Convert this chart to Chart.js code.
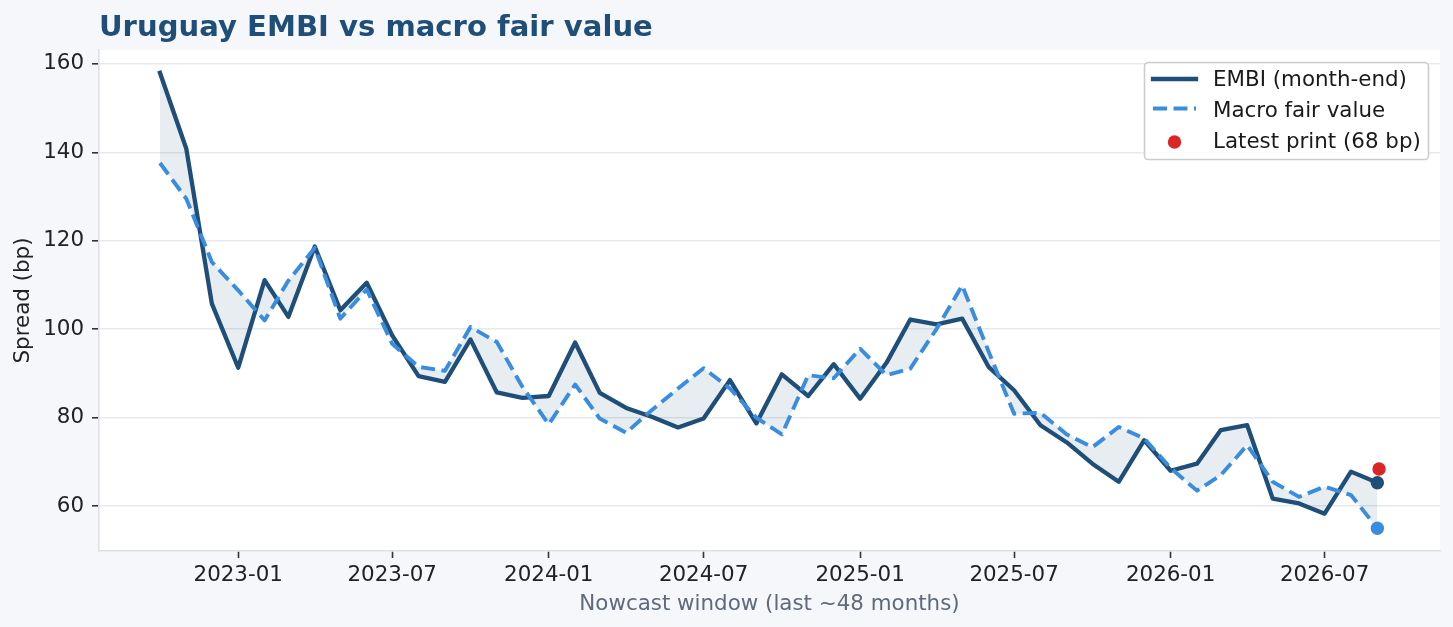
<!DOCTYPE html>
<html>
<head>
<meta charset="utf-8">
<style>
  html, body { margin: 0; padding: 0; background: #f5f7fa; }
  canvas { display: block; }
</style>
</head>
<body>
<canvas id="c" width="1453" height="627"></canvas>
<script src="https://cdn.jsdelivr.net/npm/chart.js@4.4.1/dist/chart.umd.min.js"></script>
<script>
// ---------- data ----------
const months = [
  '2022-10','2022-11','2022-12',
  '2023-01','2023-02','2023-03','2023-04','2023-05','2023-06','2023-07','2023-08','2023-09','2023-10','2023-11','2023-12',
  '2024-01','2024-02','2024-03','2024-04','2024-05','2024-06','2024-07','2024-08','2024-09','2024-10','2024-11','2024-12',
  '2025-01','2025-02','2025-03','2025-04','2025-05','2025-06','2025-07','2025-08','2025-09','2025-10','2025-11','2025-12',
  '2026-01','2026-02','2026-03','2026-04','2026-05','2026-06','2026-07','2026-08','2026-09'
];
const embiSpread = [
  158.0, 140.8, 105.8,
  91.3, 111.1, 102.8, 118.7, 104.3, 110.5, 98.6, 89.4, 88.1, 97.7, 85.7, 84.5,
  84.9, 97.0, 85.6, 82.2, 80.2, 77.8, 79.8, 88.5, 78.7, 89.8, 84.9, 92.1,
  84.3, 92.4, 102.2, 101.1, 102.4, 91.5, 86.2, 78.3, 74.4, 69.6, 65.5, 74.9,
  68.0, 69.6, 77.2, 78.3, 61.7, 60.6, 58.3, 67.8, 65.3
];
const macroFairValue = [
  137.6, 129.5, 115.2,
  108.8, 102.0, 111.0, 118.4, 102.4, 109.0, 96.7, 91.5, 90.6, 100.5, 97.1, 87.0,
  78.5, 87.5, 79.8, 76.6, 81.7, 86.6, 91.2, 86.6, 80.0, 76.2, 89.6, 88.9,
  95.6, 89.6, 91.1, 100.1, 109.9, 95.0, 80.9, 81.1, 76.2, 73.3, 77.9, 75.3,
  68.6, 63.5, 67.0, 73.8, 65.5, 62.1, 64.4, 62.5, 55.0
];
const latestPrintDate = '2026-09-03';
const latestPrintValue = 68.4;
const yTicks = [60, 80, 100, 120, 140, 160];
const xTickLabels = ['2023-01','2023-07','2024-01','2024-07','2025-01','2025-07','2026-01','2026-07'];

// ---------- helpers ----------
function toDay(s) {
  const p = s.split('-').map(Number);
  return Date.UTC(p[0], p[1] - 1, p[2] || 1) / 86400000;
}
const COL_EMBI = '#1f4e79';
const COL_FAIR = '#3a8dde';
const COL_RED = '#dc2626';
const FONT = '"DejaVu Sans", "Liberation Sans", sans-serif';
const FS = 21.4;
const LW_EMBI = 4.3, LW_FAIR = 3.9;
const DASH = [14, 6.5];

const embiData = months.map((m, i) => ({ x: toDay(m), y: embiSpread[i] }));
const fairData = months.map((m, i) => ({ x: toDay(m), y: macroFairValue[i] }));
const latestData = [{ x: toDay(latestPrintDate), y: latestPrintValue }];

// matplotlib-like 5% margins
const allX = embiData.map(d => d.x).concat(latestData.map(d => d.x));
const allY = embiSpread.concat(macroFairValue, [latestPrintValue]);
const xMinD = Math.min(...allX), xMaxD = Math.max(...allX);
const yMinD = Math.min(...allY), yMaxD = Math.max(...allY);
const xPad = (xMaxD - xMinD) * 0.05, yPad = (yMaxD - yMinD) * 0.05;

const lastIdx = months.length - 1;

// ---------- plugins ----------
const bgPlugin = {
  id: 'bg',
  beforeDraw(chart) {
    const { ctx, chartArea: a } = chart;
    ctx.save();
    ctx.fillStyle = '#f5f7fa';
    ctx.fillRect(0, 0, chart.width, chart.height);
    ctx.fillStyle = '#ffffff';
    ctx.fillRect(a.left, a.top, a.right - a.left, a.bottom - a.top);
    ctx.restore();
  }
};

const titlePlugin = {
  id: 'leftTitle',
  afterDraw(chart) {
    const { ctx, chartArea: a } = chart;
    ctx.save();
    ctx.font = 'bold 29.1px ' + FONT;
    ctx.fillStyle = COL_EMBI;
    ctx.textAlign = 'left';
    ctx.textBaseline = 'alphabetic';
    ctx.fillText('Uruguay EMBI vs macro fair value', a.left, 36);
    ctx.restore();
  }
};

const legendPlugin = {
  id: 'boxLegend',
  afterDraw(chart) {
    const { ctx, chartArea: a } = chart;
    const w = 284, h = 97;
    const x = a.right - 12 - w, y = a.top + 12;
    ctx.save();
    ctx.beginPath();
    if (ctx.roundRect) ctx.roundRect(x + 0.5, y + 0.5, w, h, 4); else ctx.rect(x + 0.5, y + 0.5, w, h);
    ctx.fillStyle = 'rgba(255,255,255,0.85)';
    ctx.fill();
    ctx.strokeStyle = '#cccccc';
    ctx.lineWidth = 1.6;
    ctx.stroke();

    const items = [
      { label: 'EMBI (month-end)', kind: 'solid', hy: 17 },
      { label: 'Macro fair value', kind: 'dash', hy: 46.5 },
      { label: 'Latest print (' + Math.round(latestPrintValue) + ' bp)', kind: 'dot', hy: 80 }
    ];
    items.forEach((it, i) => {
      const cy = y + 17 + i * 31;
      const hx0 = x + 9, hx1 = x + 52;
      const hy = y + it.hy;
      ctx.save();
      if (it.kind === 'solid' || it.kind === 'dash') {
        ctx.beginPath();
        ctx.moveTo(hx0, hy);
        ctx.lineTo(hx1, hy);
        if (it.kind === 'solid') {
          ctx.lineWidth = LW_EMBI;
          ctx.strokeStyle = COL_EMBI;
          ctx.lineCap = 'square';
        } else {
          ctx.lineWidth = LW_FAIR;
          ctx.strokeStyle = COL_FAIR;
          ctx.lineCap = 'butt';
          ctx.setLineDash(DASH);
        }
        ctx.stroke();
      } else {
        ctx.beginPath();
        ctx.arc((hx0 + hx1) / 2, hy, 6.7, 0, Math.PI * 2);
        ctx.fillStyle = COL_RED;
        ctx.fill();
      }
      ctx.restore();
      ctx.font = FS + 'px ' + FONT;
      ctx.fillStyle = '#1a1a1a';
      ctx.textAlign = 'left';
      ctx.textBaseline = 'middle';
      ctx.fillText(it.label, x + 69, cy + 1);
    });
    ctx.restore();
  }
};

// ---------- chart ----------
const fillColor = 'rgba(31,78,121,0.10)';

new Chart(document.getElementById('c'), {
  type: 'line',
  data: {
    datasets: [
      {
        label: 'Latest print',
        type: 'scatter',
        data: latestData,
        pointRadius: 6.7,
        pointBackgroundColor: COL_RED,
        pointBorderWidth: 0,
        showLine: false,
        order: 0
      },
      {
        label: 'Macro fair value',
        data: fairData,
        borderColor: COL_FAIR,
        borderWidth: LW_FAIR,
        borderDash: DASH,
        borderCapStyle: 'butt',
        borderJoinStyle: 'round',
        tension: 0,
        fill: false,
        pointRadius: ctx => ctx.dataIndex === lastIdx ? 6.7 : 0,
        pointBackgroundColor: COL_FAIR,
        pointBorderWidth: 0,
        order: 1
      },
      {
        label: 'EMBI (month-end)',
        data: embiData,
        borderColor: COL_EMBI,
        borderWidth: LW_EMBI,
        borderCapStyle: 'square',
        borderJoinStyle: 'round',
        tension: 0,
        fill: { target: 1, above: fillColor, below: fillColor },
        pointRadius: ctx => ctx.dataIndex === lastIdx ? 6.7 : 0,
        pointBackgroundColor: COL_EMBI,
        pointBorderWidth: 0,
        order: 2
      }
    ]
  },
  options: {
    responsive: false,
    devicePixelRatio: 1,
    animation: false,
    events: [],
    layout: { padding: { top: 50, right: 13, bottom: 0, left: 0 } },
    plugins: {
      legend: { display: false },
      title: { display: false },
      tooltip: { enabled: false },
      filler: { propagate: false }
    },
    scales: {
      x: {
        type: 'linear',
        min: xMinD - xPad,
        max: xMaxD + xPad,
        afterBuildTicks(scale) {
          scale.ticks = xTickLabels.map(l => ({ value: toDay(l) }));
        },
        afterFit(scale) { scale.height = 76; },
        ticks: {
          autoSkip: false,
          maxRotation: 0,
          padding: 5,
          color: '#222222',
          font: { family: FONT, size: FS },
          callback(v) {
            const i = xTickLabels.findIndex(l => toDay(l) === v);
            return i >= 0 ? xTickLabels[i] : '';
          }
        },
        grid: {
          display: true,
          drawOnChartArea: false,
          drawTicks: true,
          tickLength: 7,
          tickColor: '#333333',
          tickWidth: 1.6
        },
        border: { display: true, color: '#dde1e6', width: 1.6 },
        title: {
          display: true,
          text: 'Nowcast window (last ~48 months)',
          color: '#5f6b7a',
          font: { family: FONT, size: FS },
          padding: { top: 0, bottom: 10 }
        }
      },
      y: {
        type: 'linear',
        min: yMinD - yPad,
        max: yMaxD + yPad,
        afterBuildTicks(scale) {
          scale.ticks = yTicks.map(v => ({ value: v }));
        },
        afterFit(scale) { scale.width = 99; },
        ticks: {
          padding: 8,
          color: '#222222',
          font: { family: FONT, size: FS },
          callback: v => String(v)
        },
        grid: {
          display: true,
          drawOnChartArea: true,
          color: '#e6e9ed',
          lineWidth: 1.6,
          drawTicks: true,
          tickLength: 7,
          tickColor: '#333333',
          tickWidth: 1.6
        },
        border: { display: true, color: '#dde1e6', width: 1.6 },
        title: {
          display: true,
          text: 'Spread (bp)',
          color: '#222222',
          font: { family: FONT, size: FS },
          padding: { top: 11, bottom: 0 }
        }
      }
    }
  },
  plugins: [bgPlugin, titlePlugin, legendPlugin]
});
</script>
</body>
</html>
